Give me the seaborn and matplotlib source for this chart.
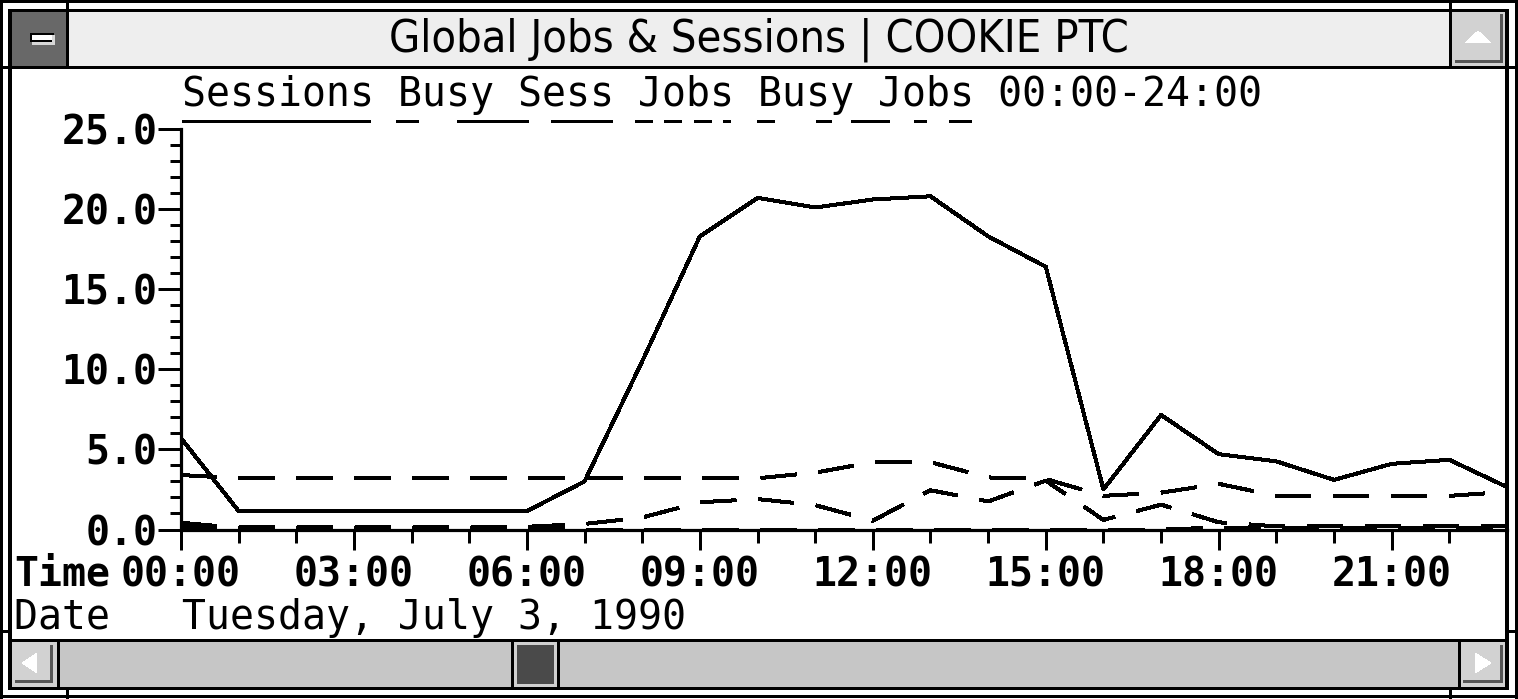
import numpy as np
import pandas as pd
import seaborn as sns
import matplotlib
matplotlib.use("Agg")
import matplotlib.pyplot as plt
from matplotlib.patches import Rectangle, Polygon
from matplotlib.lines import Line2D
from matplotlib import font_manager as fm

# ---------------- data ----------------
hours = list(range(24))
sessions = [5.7, 1.15, 1.15, 1.15, 1.15, 1.15, 1.15, 3.0, 10.5, 18.3, 20.7, 20.1,
            20.6, 20.8, 18.3, 16.4, 2.5, 7.15, 4.7, 4.25, 3.1, 4.1, 4.35, 2.65]
busy_sess = [0.17, 0.17, 0.17, 0.17, 0.17, 0.17, 0.17, 0.35, 0.75, 1.7, 1.9, 1.52,
             0.55, 2.45, 1.75, 3.05, 0.6, 1.55, 0.45, 0.2, 0.2, 0.2, 0.2, 0.2]
jobs = [3.4, 3.2, 3.2, 3.2, 3.2, 3.2, 3.2, 3.2, 3.2, 3.2, 3.2, 3.55,
        4.2, 4.2, 3.25, 3.15, 2.1, 2.3, 2.85, 2.1, 2.1, 2.1, 2.1, 2.35]
busy_jobs = [0.42, 0.1, 0.1, 0.1, 0.1, 0.1, 0.1, 0.0, 0.0, 0.0, 0.0, 0.0,
             0.0, 0.0, 0.0, 0.0, 0.0, 0.0, 0.12, 0.12, 0.12, 0.12, 0.12, 0.12]
series_names = ["Sessions", "Busy Sess", "Jobs", "Busy Jobs"]
y_ticks = [0, 5, 10, 15, 20, 25]
x_tick_hours = [0, 3, 6, 9, 12, 15, 18, 21]
x_tick_labels = ["00:00", "03:00", "06:00", "09:00", "12:00", "15:00", "18:00", "21:00"]
window_title = "Global Jobs & Sessions | COOKIE PTC"
legend_line = "Sessions Busy Sess Jobs Busy Jobs 00:00-24:00"
time_label = "Time"
date_line = "Date   Tuesday, July 3, 1990"

df = pd.DataFrame({
    "hour": hours * 4,
    "value": sessions + busy_sess + jobs + busy_jobs,
    "series": np.repeat(series_names, len(hours)),
})

# ---------------- style ----------------
W, H = 1518, 699
PT = 0.72  # points per pixel at dpi 100
sns.set_theme(style="white")
plt.rcParams["font.family"] = ["DejaVu Sans Mono", "DejaVu Sans"]
plt.rcParams["lines.scale_dashes"] = False
MONO = 28.7  # 24 px advance

def find_title_font():
    best, best_score = None, -1
    for f in fm.fontManager.ttflist:
        nm = f.name.lower()
        fn = f.fname.lower()
        st = str(f.stretch).lower()
        cond = ("condensed" in st) or ("narrow" in nm) or ("condensed" in nm) \
            or ("condensed" in fn) or ("narrow" in fn)
        if not cond or f.style != "normal":
            continue
        w = f.weight
        if not isinstance(w, (int, float)):
            w = {"bold": 700, "normal": 400, "regular": 400}.get(str(w), 400)
        score = 10 - abs(w - 500) / 100.0
        if "dejavu" in nm:
            score += 5
        elif "liberation" in nm:
            score += 4
        if "extra" in st or "ultra" in st:
            score -= 3
        if score > best_score:
            best, best_score = f.fname, score
    if best:
        return fm.FontProperties(fname=best)
    return fm.FontProperties(family="DejaVu Sans")

fig = plt.figure(figsize=(W / 100, H / 100), dpi=100)
fig.patch.set_facecolor("white")

# chrome layer (pixel coordinates)
cax = fig.add_axes([0, 0, 1, 1], zorder=0)
cax.set_xlim(0, W)
cax.set_ylim(H, 0)
cax.axis("off")

def box(x0, y0, x1, y1, fc="black"):
    cax.add_patch(Rectangle((x0, y0), x1 - x0, y1 - y0, facecolor=fc,
                            edgecolor="none", lw=0, antialiased=False))

def tri(pts, fc="white"):
    cax.add_patch(Polygon(pts, closed=True, facecolor=fc, edgecolor="none",
                          antialiased=False))

# title bar & buttons
box(12, 12, 1505, 66, "#eeeeee")
box(12, 12, 66, 66, "#686868")
box(30, 33, 54, 42, "black")
box(32, 35, 52, 40, "white")
box(32, 42, 55, 45, "#d8d8d8")
box(52, 35, 55, 45, "#d8d8d8")
box(1452, 12, 1505, 66, "#d2d2d2")
box(1500, 14, 1503, 63, "#555555")
box(1455, 60, 1503, 63, "#555555")
tri([(1478, 31), (1465, 43), (1491, 43)])

# scrollbar
box(12, 642, 1505, 687, "#c6c6c6")
box(12, 642, 57, 687, "#d2d2d2")
box(50, 645, 53, 683, "#555555")
box(15, 680, 53, 683, "#555555")
tri([(22, 663), (37, 653), (37, 673)])
box(1461, 642, 1505, 687, "#d2d2d2")
box(1500, 645, 1503, 683, "#555555")
box(1463, 680, 1503, 683, "#555555")
tri([(1491, 663), (1475, 653), (1475, 673)])
box(514, 642, 557, 687, "#d0d0d0")
box(517, 645, 554, 684, "#4a4a4a")

# frame lines
box(0, 0, W, 3)
box(0, 695, W, 698)
box(0, 0, 3, H)
box(1515, 0, W, H)
box(8, 9, 1509, 12)
box(8, 9, 12, 690)
box(1505, 9, 1509, 690)
box(8, 687, 1509, 690)
box(8, 66, 1509, 69)
box(66, 12, 69, 66)
box(1449, 12, 1452, 66)
box(8, 639, 1509, 642)
box(57, 642, 60, 687)
box(1458, 642, 1461, 687)
box(511, 642, 514, 687)
box(557, 642, 560, 687)
for xm in (66, 1449):
    box(xm, 0, xm + 3, 12)
    box(xm, 687, xm + 3, H)
for ym in (66, 630):
    box(0, ym, 12, ym + 3)
    box(1505, ym, W, ym + 3)

# window title
tfp = find_title_font()
ttl = cax.text(759, 40, window_title, fontproperties=tfp, fontsize=30,
               ha="center", va="center", color="black")
fig.canvas.draw()
bw = ttl.get_window_extent().width
ttl.set_fontsize(30 * 738.0 / bw)

# legend text and samples
cax.text(182, 106, legend_line, fontsize=MONO, ha="left", va="baseline",
         color="black", family="DejaVu Sans Mono")
leg_y = 121
def sample(x0, x1, seq=None):
    ln = Line2D([x0, x1], [leg_y, leg_y], color="black", lw=3 * PT,
                solid_capstyle="butt", dash_capstyle="butt", antialiased=False)
    if seq:
        ln.set_dashes([s * PT for s in seq])
    cax.add_line(ln)
sample(182, 370)
sample(396, 612, [22, 38, 71, 23, 62, 200])
sample(635, 730, [17, 11, 18, 12, 17, 11, 10, 200])
sample(757, 973, [18, 42, 16, 19, 38, 24, 13, 23, 23, 200])

cax.text(14, 586, time_label, fontsize=MONO, fontweight="bold", ha="left",
         va="baseline", color="black", family="DejaVu Sans Mono")
cax.text(14, 629, date_line, fontsize=MONO, ha="left", va="baseline",
         color="black", family="DejaVu Sans Mono")

# ---------------- chart ----------------
x0, x1, ytop, ybot = 181, 1507, 129, 529.5
ax = fig.add_axes([x0 / W, (H - ybot) / H, (x1 - x0) / W, (ybot - ytop) / H], zorder=1)
ax.patch.set_alpha(0)

dash = (35 * PT, 22.6 * PT)
sns.lineplot(data=df, x="hour", y="value", style="series",
             dashes={"Sessions": "", "Busy Sess": dash, "Jobs": dash, "Busy Jobs": dash},
             color="black", linewidth=3 * PT, estimator=None, legend=False, ax=ax)
for ln in ax.get_lines():
    ln.set_dash_capstyle("butt")
    ln.set_antialiased(False)

ax.set_xlim(0, 23)
ax.set_ylim(0, 25)
ax.set_xlabel("")
ax.set_ylabel("")
sns.despine(ax=ax)
for s in ("left", "bottom"):
    ax.spines[s].set_visible(True)
    ax.spines[s].set_linewidth(3.2 * PT)
    ax.spines[s].set_color("black")
    ax.spines[s].set_zorder(3)

ax.set_xticks(x_tick_hours)
ax.set_xticklabels(x_tick_labels)
ax.set_xticks(hours, minor=True)
ax.set_yticks(y_ticks)
ax.set_yticklabels([f"{v:.1f}" for v in y_ticks])
ax.set_yticks(range(0, 26), minor=True)

ax.tick_params(axis="both", which="both", bottom=True, left=True, top=False, right=False)
ax.tick_params(axis="x", which="major", direction="out", length=19.5 * PT,
               width=3 * PT, color="black", pad=5, labelsize=MONO)
ax.tick_params(axis="x", which="minor", direction="out", length=12.5 * PT,
               width=3 * PT, color="black")
ax.tick_params(axis="y", which="major", direction="out", length=23 * PT,
               width=3 * PT, color="black", pad=0.5, labelsize=MONO)
ax.tick_params(axis="y", which="minor", direction="out", length=11 * PT,
               width=3 * PT, color="black")
for lab in ax.get_xticklabels() + ax.get_yticklabels():
    lab.set_fontweight("bold")
    lab.set_family("DejaVu Sans Mono")
    lab.set_color("black")

fig.savefig("out.png", dpi=100)
